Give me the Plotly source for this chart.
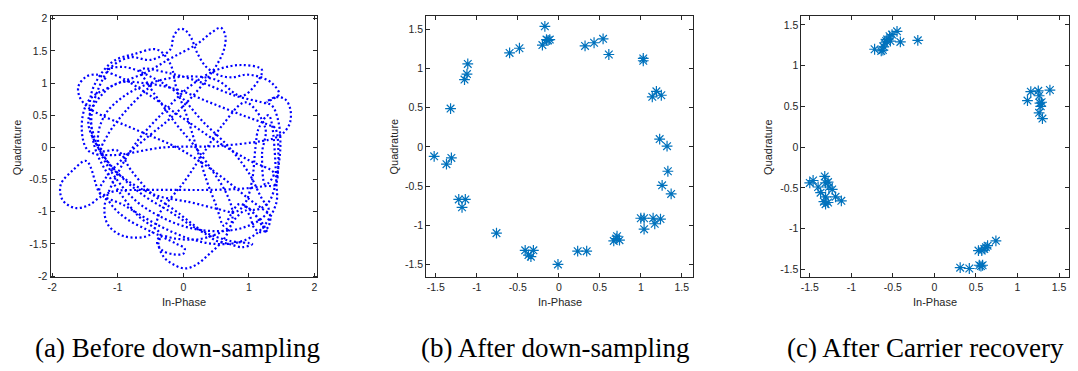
import plotly.graph_objects as go

# ---------------- data ----------------
# (a) waveform trajectory waypoints (In-Phase, Quadrature)
a_i = [-1.18,-1.32,-1.48,-1.60,-1.58,-1.45,-1.25,-0.9,-0.5,-0.1,0.3,0.7,1.0,1.2,
       1.32,1.30,1.20,1.08,1.02,0.95,0.78,0.72,
       0.5,0.2,-0.1,-0.35,
       -0.40,-0.32,-0.15,0.0,0.02,-0.1,-0.3,-0.55,-0.85,-1.05,-1.2,-1.28,-1.48,
       -1.68,-1.87,-1.84,-1.65,-1.45,-1.25,-1.05,
       -0.6,-0.1,0.4,0.9,1.25,1.40,
       1.45,1.48,1.45,1.35,1.20,
       0.8,0.3,-0.2,-0.65,
       -0.55,-0.35,-0.1,0.15,0.4,0.65,0.75,0.72,
       0.6,0.4,0.2,0.03,-0.15,-0.3,-0.38,-0.35,
       -0.7,-1.1,-1.35,-1.4,-1.3,-1.1,-0.8,-0.5,-0.2,
       -0.15,-0.06,0.03,0.12,0.22,0.35,0.55,0.75,0.95,1.15,1.35,1.46,1.36,1.26,
       1.40,1.55,1.63,1.63,1.55,1.40,1.2,
       0.5,-0.3,-1.1,-1.45,
       -1.55,-1.45,-1.1,-0.6,-0.2,0.2,0.45,0.57,0.64,0.62,0.52,0.35,0.1,-0.2,-0.5,-0.9,-1.2,-1.28,
       -0.9,-0.4,0.1,0.5,0.85,1.10,1.28,1.42,1.42,
       1.3,1.15,1.1,1.05,0.95,0.8,
       0.5,0.1,-0.4,-0.8,-1.1,-1.3,
       -1.2,-0.9,-0.5,0.0,0.5,0.9,1.2,
       0.9,0.5,0.1,-0.3,-0.7,-1.0,-1.2,-1.15,-0.9,-0.5,-0.35,
       0.0,0.3,0.6,0.95,1.25,
       1.2,1.25,1.38,
       1.0,0.5,0.0,-0.5,-0.9,-1.18,
       -0.9,-0.5,-0.1,0.3,0.7,1.0,1.2,1.3,1.2,
       0.9,0.5,0.1,-0.3,-0.7,-1.05,-1.3,-1.42,-1.4,-1.25,-1.05,-0.75,-0.4,-0.2,
       -0.1,0.05,0.2,0.35,0.5,0.62,0.72,
       0.85,1.0,1.12,1.22,1.28,1.22,1.05,0.9,0.95,1.1,1.3,1.42,1.45,1.40,1.30,
       0.9,0.4,-0.1,-0.6,-1.0,-1.3,-1.45,
       -1.3,-1.0,-0.6,-0.2,0.1,0.35,0.5,0.7,0.9,1.05,
       0.7,0.3,-0.1,-0.5,-0.8,-1.0,
       -1.25,-1.15,-0.85,-0.45,-0.05,0.3]
a_q = [1.06,1.13,1.10,0.95,0.78,0.62,0.50,0.35,0.18,0.0,-0.25,-0.55,-0.80,-0.95,
       -1.05,-1.22,-1.32,-1.25,-1.08,-0.98,-1.12,-1.22,
       -1.35,-1.43,-1.42,-1.38,
       -1.48,-1.60,-1.66,-1.65,-1.57,-1.50,-1.40,-1.28,-1.12,-0.95,-0.75,-0.70,-0.21,
       -0.35,-0.58,-0.82,-0.94,-0.90,-0.76,-0.68,
       -0.66,-0.66,-0.66,-0.64,-0.60,-0.58,
       -0.30,0.05,0.40,0.65,0.70,
       0.80,1.00,1.15,1.21,
       1.0,0.7,0.35,0.05,-0.3,-0.7,-1.0,-1.22,
       -1.45,-1.65,-1.82,-1.88,-1.82,-1.70,-1.50,-1.35,
       -1.05,-0.5,0.0,0.5,0.9,1.25,1.40,1.36,1.52,
       1.72,1.84,1.82,1.70,1.45,1.25,1.12,1.09,1.13,1.10,1.00,0.83,0.75,0.70,
       0.78,0.75,0.60,0.40,0.25,0.15,0.10,
       0.02,0.0,-0.12,-0.05,
       0.30,0.72,0.95,1.15,1.38,1.60,1.80,1.86,1.74,1.52,1.30,1.05,0.75,0.45,0.2,-0.15,-0.5,-0.70,
       -0.9,-1.2,-1.42,-1.50,-1.47,-1.35,-1.15,-0.85,-0.58,
       0.5,0.3,0.0,-0.5,-0.85,-1.0,
       -0.95,-0.85,-0.75,-0.55,-0.3,0.1,
       0.5,0.8,1.0,1.1,1.05,0.8,
       1.2,1.28,1.2,0.95,0.55,0.1,-0.4,-0.9,-1.2,-1.38,-1.35,
       -1.0,-0.55,-0.1,0.35,0.7,
       0.3,-0.1,-0.58,
       -0.4,-0.2,0.1,0.45,0.8,1.06,
       1.2,1.25,1.1,0.85,0.4,0.0,-0.4,-0.8,-0.95,
       -1.1,-1.25,-1.3,-1.25,-1.1,-0.85,-0.45,0.0,0.45,0.85,1.15,1.35,1.45,1.52,
       1.3,0.9,0.5,0.0,-0.5,-0.9,-1.22,
       -1.05,-0.88,-0.95,-1.08,-1.25,-1.33,-1.2,-1.0,-0.88,-0.92,-0.97,-0.85,-0.5,-0.1,0.3,
       0.35,0.5,0.7,0.9,1.0,1.0,
       0.75,0.4,0.0,-0.4,-0.75,-1.0,-1.2,-1.35,-1.45,-1.5,
       -1.55,-1.5,-1.45,-1.3,-1.0,-0.7,
       -0.35,-0.05,-0.05,0.2,0.6,1.0]

# (b) after down-sampling
b_i = [-0.17,-0.20,-0.15,-0.11,-0.13,-0.48,-0.60,0.32,0.43,0.54,0.61,1.03,1.03,
       -1.11,-1.12,-1.15,-1.32,1.14,1.19,1.25,1.23,1.32,1.33,1.26,1.37,
       -1.52,-1.37,-1.31,-1.22,-1.14,-1.18,-0.76,-0.41,-0.31,-0.37,-0.34,-0.01,
       0.23,0.34,0.67,0.71,0.74,0.70,1.00,1.04,1.04,1.15,1.17,1.24]
b_q = [1.54,1.30,1.37,1.37,1.36,1.26,1.20,1.29,1.33,1.38,1.18,1.13,1.10,
       1.06,0.93,0.86,0.49,0.64,0.71,0.66,0.10,0.01,-0.31,-0.49,-0.60,
       -0.12,-0.22,-0.14,-0.67,-0.67,-0.77,-1.10,-1.32,-1.32,-1.38,-1.40,-1.50,
       -1.33,-1.33,-1.20,-1.14,-1.19,-1.17,-0.91,-0.91,-1.05,-0.91,-0.98,-0.92]

# (c) after carrier recovery
c_i = [-0.72,-0.64,-0.61,-0.60,-0.57,-0.53,-0.54,-0.51,-0.45,-0.41,-0.20,-0.58,-0.62,
       1.12,1.16,1.25,1.26,1.27,1.28,1.26,1.30,1.39,1.29,
       -1.50,-1.46,-1.40,-1.37,-1.32,-1.31,-1.28,-1.27,-1.23,-1.19,-1.12,-1.31,-1.31,-1.28,-1.33,
       0.31,0.42,0.53,0.57,0.60,0.64,0.74,0.54,0.58,0.56,0.62]
c_q = [1.20,1.18,1.23,1.28,1.32,1.30,1.36,1.38,1.42,1.29,1.31,1.30,1.19,
       0.57,0.68,0.69,0.63,0.54,0.50,0.42,0.35,0.70,0.55,
       -0.44,-0.41,-0.49,-0.56,-0.36,-0.44,-0.43,-0.49,-0.52,-0.61,-0.66,-0.61,-0.70,-0.68,-0.67,
       -1.48,-1.49,-1.27,-1.27,-1.25,-1.21,-1.15,-1.45,-1.45,-1.46,-1.23]

captions = ["(a) Before down-sampling", "(b) After down-sampling", "(c) After Carrier recovery"]
x_title = "In-Phase"
y_title = "Quadrature"

# ---------------- figure ----------------
W, H = 1078, 371
AX = "#262626"
STAR = "#0072BD"

fig = go.Figure()
fig.add_trace(go.Scatter(x=a_i, y=a_q, mode="lines", xaxis="x", yaxis="y",
                         line=dict(color="#0000FF", width=2.2, dash="2px,2.5px",
                                   shape="spline", smoothing=1.0),
                         hoverinfo="skip", showlegend=False))
fig.add_trace(go.Scatter(x=b_i, y=b_q, mode="markers", xaxis="x2", yaxis="y2",
                         marker=dict(symbol="asterisk-open", size=9, color=STAR,
                                     line=dict(color=STAR, width=1.2)),
                         showlegend=False))
fig.add_trace(go.Scatter(x=c_i, y=c_q, mode="markers", xaxis="x3", yaxis="y3",
                         marker=dict(symbol="asterisk-open", size=9, color=STAR,
                                     line=dict(color=STAR, width=1.2)),
                         showlegend=False))

def axis(dom, rng, tickvals, anchor):
    return dict(domain=dom, range=rng, tickvals=tickvals,
                ticktext=[("%g" % v) for v in tickvals],
                showgrid=False, zeroline=False, showline=True, mirror="ticks",
                linecolor=AX, linewidth=1, ticks="inside", ticklen=4, tickwidth=1,
                tickcolor=AX, tickfont=dict(family="Liberation Sans", size=10.5, color=AX),
                anchor=anchor, fixedrange=True)

ydom = [1 - 279.5 / H, 1 - 12.7 / H]
fig.update_layout(
    width=W, height=H, margin=dict(l=0, r=0, t=0, b=0),
    paper_bgcolor="white", plot_bgcolor="white",
    xaxis=axis([47.7 / W, 315 / W], [-2.025, 2.04], [-2, -1, 0, 1, 2], "y"),
    yaxis=axis(ydom, [-2.02, 2.035], [-2, -1.5, -1, -0.5, 0, 0.5, 1, 1.5, 2], "x"),
    xaxis2=axis([424.3 / W, 692.3 / W], [-1.618, 1.641], [-1.5, -1, -0.5, 0, 0.5, 1, 1.5], "y2"),
    yaxis2=axis(ydom, [-1.666, 1.666], [-1.5, -1, -0.5, 0, 0.5, 1, 1.5], "x2"),
    xaxis3=axis([800.7 / W, 1069 / W], [-1.6, 1.62], [-1.5, -1, -0.5, 0, 0.5, 1, 1.5], "y3"),
    yaxis3=axis(ydom, [-1.6, 1.603], [-1.5, -1, -0.5, 0, 0.5, 1, 1.5], "x3"),
)

lab_font = dict(family="Liberation Sans", size=11, color=AX)
xt_centers = [181.3, 558.3, 934.8]
yt_centers = [13.5, 391.7, 767.3]
for xc, yc in zip(xt_centers, yt_centers):
    fig.add_annotation(text=x_title, x=xc / W, y=1 - 305 / H, xref="paper", yref="paper",
                       showarrow=False, font=lab_font, xanchor="center", yanchor="middle")
    fig.add_annotation(text=y_title, x=yc / W, y=1 - 146 / H, xref="paper", yref="paper",
                       showarrow=False, font=lab_font, textangle=-90,
                       xanchor="center", yanchor="middle")

cap_centers = [175, 554, 925]
for cx, txt in zip(cap_centers, captions):
    fig.add_annotation(text=txt, x=cx / W, y=1 - 352 / H, xref="paper", yref="paper",
                       showarrow=False, xanchor="center", yanchor="middle",
                       font=dict(family="Liberation Serif", size=27, color="black"))

fig.write_html("out.html")
